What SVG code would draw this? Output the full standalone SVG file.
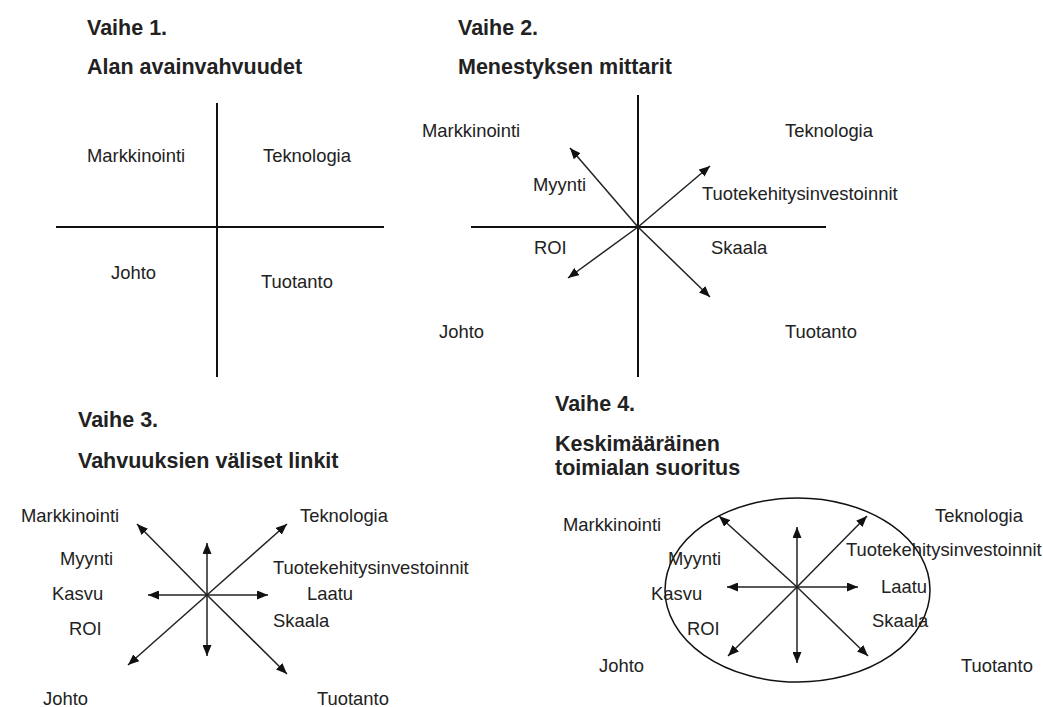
<svg xmlns="http://www.w3.org/2000/svg" width="1043" height="707" viewBox="0 0 1043 707">
<style>
.t{font-family:"Liberation Sans",Arial,sans-serif;font-size:21.5px;font-weight:bold;fill:#222}
.l{font-family:"Liberation Sans",Arial,sans-serif;font-size:18.4px;fill:#222}
.ax{stroke:#111;stroke-width:2;fill:none}
.el{stroke:#111;stroke-width:1.5;fill:none}
.ar{stroke:#222;stroke-width:1.5;fill:none;marker-end:url(#ah)}
</style>
<defs>
<marker id="ah" markerUnits="userSpaceOnUse" markerWidth="11" markerHeight="9" refX="11" refY="4.5" orient="auto">
<path d="M0,0 L11,4.5 L0,9 z" fill="#111"/>
</marker>
</defs>
<rect width="1043" height="707" fill="#fff"/>

<!-- Panel 1 -->
<g id="panel1">
<g id="p1-title"><text class="t" x="87" y="35">Vaihe 1.</text><text class="t" x="87" y="74">Alan avainvahvuudet</text></g>
<g id="p1-markkinointi"><text class="l" x="87" y="162">Markkinointi</text></g>
<g id="p1-teknologia"><text class="l" x="263" y="162">Teknologia</text></g>
<g id="p1-johto"><text class="l" x="111" y="279">Johto</text></g>
<g id="p1-tuotanto"><text class="l" x="261" y="288">Tuotanto</text></g>
<g id="p1-connectors">
<line class="ax" x1="217" y1="103" x2="217" y2="377"/>
<line class="ax" x1="56" y1="227" x2="384" y2="227"/>
</g>
</g>

<!-- Panel 2 -->
<g id="panel2">
<g id="p2-title"><text class="t" x="458" y="35">Vaihe 2.</text><text class="t" x="458" y="74">Menestyksen mittarit</text></g>
<g id="p2-markkinointi"><text class="l" x="422" y="137">Markkinointi</text></g>
<g id="p2-teknologia"><text class="l" x="785" y="137">Teknologia</text></g>
<g id="p2-myynti"><text class="l" x="533" y="191">Myynti</text></g>
<g id="p2-tuotekehitys"><text class="l" x="702" y="200">Tuotekehitysinvestoinnit</text></g>
<g id="p2-roi"><text class="l" x="534" y="254">ROI</text></g>
<g id="p2-skaala"><text class="l" x="711" y="254">Skaala</text></g>
<g id="p2-johto"><text class="l" x="439" y="338">Johto</text></g>
<g id="p2-tuotanto"><text class="l" x="785" y="338">Tuotanto</text></g>
<g id="p2-connectors">
<line class="ax" x1="638" y1="95" x2="638" y2="377"/>
<line class="ax" x1="471" y1="227" x2="826" y2="227"/>
<line class="ar" x1="638" y1="227" x2="570" y2="148"/>
<line class="ar" x1="638" y1="227" x2="710" y2="166"/>
<line class="ar" x1="638" y1="227" x2="568" y2="278"/>
<line class="ar" x1="638" y1="227" x2="710" y2="297"/>
</g>
</g>

<!-- Panel 3 -->
<g id="panel3">
<g id="p3-title"><text class="t" x="78" y="427">Vaihe 3.</text><text class="t" x="78" y="468">Vahvuuksien väliset linkit</text></g>
<g id="p3-markkinointi"><text class="l" x="21" y="522">Markkinointi</text></g>
<g id="p3-teknologia"><text class="l" x="300" y="522">Teknologia</text></g>
<g id="p3-myynti"><text class="l" x="60" y="565">Myynti</text></g>
<g id="p3-tuotekehitys"><text class="l" x="273" y="574">Tuotekehitysinvestoinnit</text></g>
<g id="p3-kasvu"><text class="l" x="52" y="600">Kasvu</text></g>
<g id="p3-laatu"><text class="l" x="307" y="600">Laatu</text></g>
<g id="p3-roi"><text class="l" x="69" y="635">ROI</text></g>
<g id="p3-skaala"><text class="l" x="273" y="627">Skaala</text></g>
<g id="p3-johto"><text class="l" x="43" y="705">Johto</text></g>
<g id="p3-tuotanto"><text class="l" x="317" y="705">Tuotanto</text></g>
<g id="p3-connectors">
<line class="ar" x1="207" y1="595" x2="137" y2="524"/>
<line class="ar" x1="207" y1="595" x2="287" y2="524"/>
<line class="ar" x1="207" y1="595" x2="207" y2="543"/>
<line class="ar" x1="207" y1="595" x2="207" y2="656"/>
<line class="ar" x1="207" y1="595" x2="148" y2="595"/>
<line class="ar" x1="207" y1="595" x2="268" y2="595"/>
<line class="ar" x1="207" y1="595" x2="128" y2="665"/>
<line class="ar" x1="207" y1="595" x2="287" y2="674"/>
</g>
</g>

<!-- Panel 4 -->
<g id="panel4">
<g id="p4-title"><text class="t" x="555" y="411">Vaihe 4.</text><text class="t" x="555" y="451">Keskimääräinen</text><text class="t" x="555" y="475">toimialan suoritus</text></g>
<g id="p4-ellipse"><ellipse class="el" cx="797.5" cy="590" rx="132.5" ry="92"/></g>
<g id="p4-markkinointi"><text class="l" x="563" y="531">Markkinointi</text></g>
<g id="p4-teknologia"><text class="l" x="935" y="522">Teknologia</text></g>
<g id="p4-myynti"><text class="l" x="668" y="565">Myynti</text></g>
<g id="p4-tuotekehitys"><text class="l" x="846" y="556">Tuotekehitysinvestoinnit</text></g>
<g id="p4-kasvu"><text class="l" x="651" y="600">Kasvu</text></g>
<g id="p4-laatu"><text class="l" x="881" y="593">Laatu</text></g>
<g id="p4-roi"><text class="l" x="687" y="635">ROI</text></g>
<g id="p4-skaala"><text class="l" x="872" y="627">Skaala</text></g>
<g id="p4-johto"><text class="l" x="599" y="672">Johto</text></g>
<g id="p4-tuotanto"><text class="l" x="961" y="672">Tuotanto</text></g>
<g id="p4-connectors">
<line class="ar" x1="797" y1="587" x2="719" y2="516"/>
<line class="ar" x1="797" y1="587" x2="867" y2="516"/>
<line class="ar" x1="797" y1="587" x2="797" y2="527"/>
<line class="ar" x1="797" y1="587" x2="797" y2="663"/>
<line class="ar" x1="797" y1="587" x2="727" y2="587"/>
<line class="ar" x1="797" y1="587" x2="858" y2="587"/>
<line class="ar" x1="797" y1="587" x2="728" y2="656"/>
<line class="ar" x1="797" y1="587" x2="868" y2="656"/>
</g>
</g>
</svg>
